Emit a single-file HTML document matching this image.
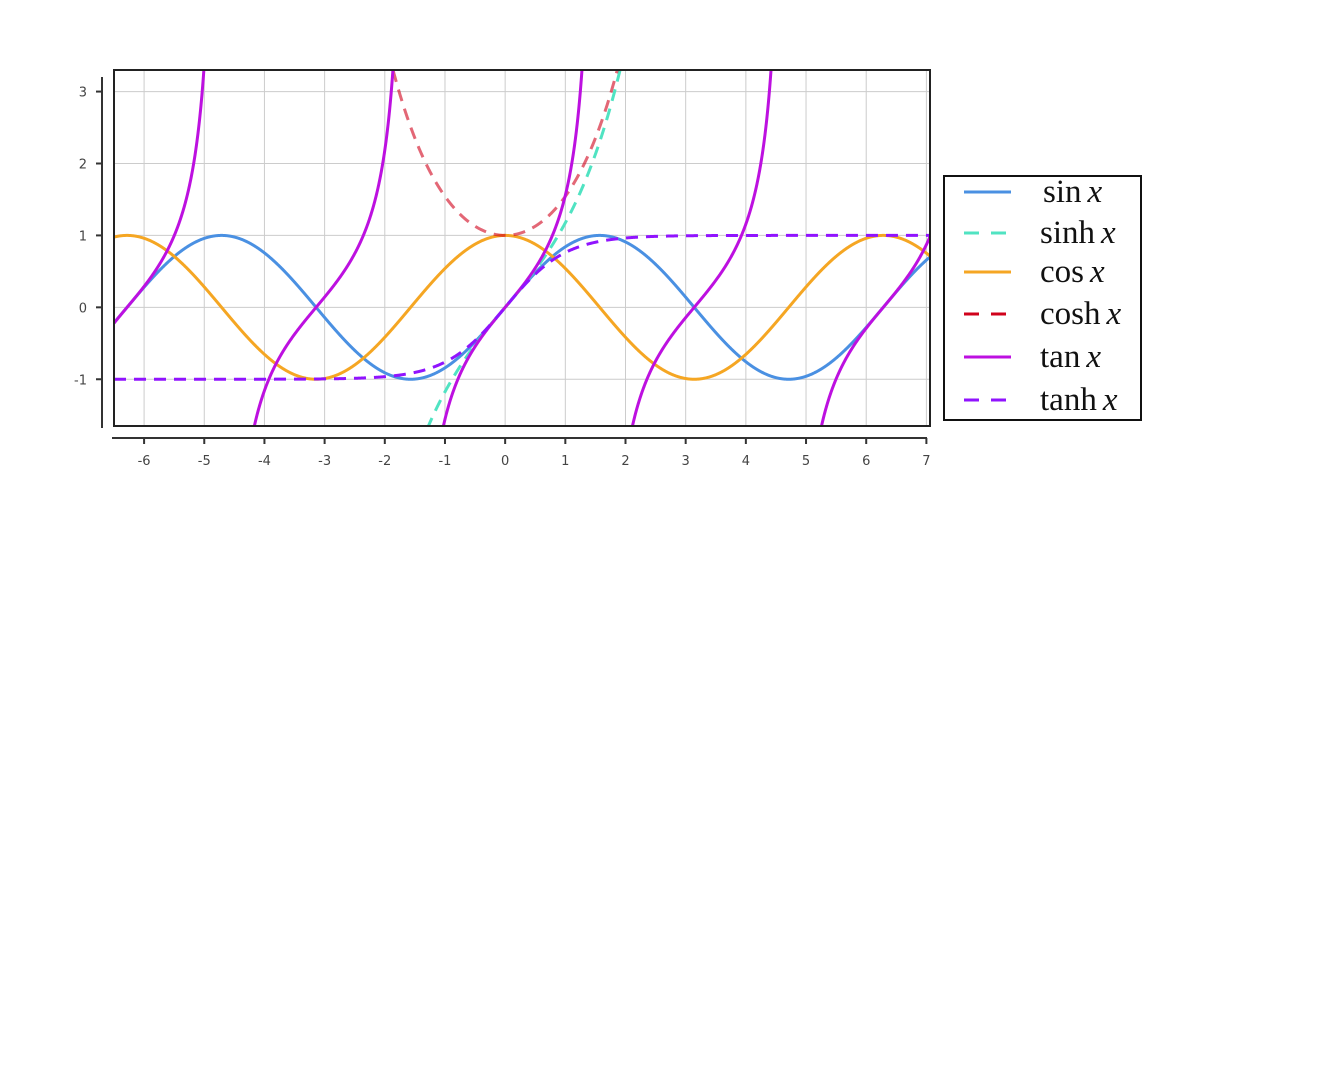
<!DOCTYPE html>
<html><head><meta charset="utf-8"><style>
body{margin:0;background:#fff;width:1322px;height:1066px;overflow:hidden}
svg{position:absolute;left:0;top:0}
.tick{font-family:"DejaVu Sans","Liberation Sans",sans-serif;font-size:13px;fill:#444}
.leg{font-family:"Liberation Serif",serif;font-size:33px;fill:#111}
</style></head><body>
<svg id="c" width="1322" height="1066">
<defs><clipPath id="clip"><rect x="114" y="70" width="816" height="356"/></clipPath></defs>
<g id="grid"></g>
<g id="series" clip-path="url(#clip)"></g>
<rect x="114" y="70" width="816" height="356" fill="none" stroke="#222" stroke-width="2"/>
<g id="axes"></g>
<g id="legend">
<rect x="944" y="176" width="197" height="244" fill="#fff" stroke="#111" stroke-width="2"/>
</g>
</svg>
<script>
const xTicks=[-6,-5,-4,-3,-2,-1,0,1,2,3,4,5,6,7];
const yTicks=[-1,0,1,2,3];
const seriesNames=["sin","sinh","cos","cosh","tan","tanh"];
const seriesColors=["#4a90e2","#50e3c2","#f5a623","#d0021b","#bd10e0","#9013fe"];
const seriesDashed=[false,true,false,true,false,true];
const xDomain=[-6.5,7.06];
const yDomain=[-1.65,3.3];
const fns={sin:Math.sin,sinh:Math.sinh,cos:Math.cos,cosh:Math.cosh,tan:Math.tan,tanh:Math.tanh};
const X=v=>114+(v-xDomain[0])/(xDomain[1]-xDomain[0])*816;
const Y=v=>426-(v-yDomain[0])/(yDomain[1]-yDomain[0])*356;
const NS="http://www.w3.org/2000/svg";
function mk(t,a,p){const e=document.createElementNS(NS,t);for(const k in a)e.setAttribute(k,a[k]);p.appendChild(e);return e;}
const grid=document.getElementById('grid'),axes=document.getElementById('axes'),ser=document.getElementById('series'),leg=document.getElementById('legend');
xTicks.forEach(t=>{
 const l=mk('line',{x1:X(t),x2:X(t),y1:70,y2:426,stroke:'#ccc','stroke-width':1},grid);
 
 
 const k=mk('line',{x1:X(t),x2:X(t),y1:438,y2:444,stroke:'#333','stroke-width':2},axes);
 
 
 const tx=mk('text',{x:X(t),y:465,'text-anchor':'middle',class:'tick'},axes);tx.textContent=t;
 
 
});
yTicks.forEach(t=>{
 const l=mk('line',{x1:114,x2:930,y1:Y(t),y2:Y(t),stroke:'#ccc','stroke-width':1},grid);
 
 
 const k=mk('line',{x1:96,x2:102,y1:Y(t),y2:Y(t),stroke:'#333','stroke-width':2},axes);
 
 
 const tx=mk('text',{x:87,y:Y(t)+5,'text-anchor':'end',class:'tick'},axes);tx.textContent=t;
 
 
});
const xa=mk('line',{x1:112,x2:927,y1:438,y2:438,stroke:'#333','stroke-width':2},axes);


const ya=mk('line',{x1:102,x2:102,y1:77,y2:428,stroke:'#333','stroke-width':2},axes);


const legRows=[192,233,272,314,357,400];
const legX=[1043,1040,1040,1040,1040,1040];
seriesNames.forEach((n,i)=>{
 const f=fns[n];let d='',prev=null;
 for(let j=0;j<=3000;j++){
  const x=xDomain[0]+(xDomain[1]-xDomain[0])*j/3000;let y=f(x);
  if(y>6)y=6;if(y<-6)y=-6;
  const jump=prev!==null&&Math.abs(y-prev)>5;
  d+=(d===''||jump?'M':'L')+X(x).toFixed(2)+','+Y(y).toFixed(2);
  prev=y;
 }
 const p=mk('path',{d:d,fill:'none',stroke:seriesColors[i],'stroke-width':3,'stroke-opacity':n==='cosh'?0.6:1},ser);
 if(seriesDashed[i])p.setAttribute('stroke-dasharray','12,8');
 
 
 const ly=legRows[i];
 const ll=mk('line',{x1:964,x2:1011,y1:ly,y2:ly,stroke:seriesColors[i],'stroke-width':3},leg);
 if(seriesDashed[i])ll.setAttribute('stroke-dasharray','15,12');
 
 
 const t=mk('text',{x:legX[i],y:ly+10,class:'leg'},leg);
 t.innerHTML=n+'<tspan dx="6" font-style="italic">x</tspan>';
 
 
});
</script>
</body></html>
